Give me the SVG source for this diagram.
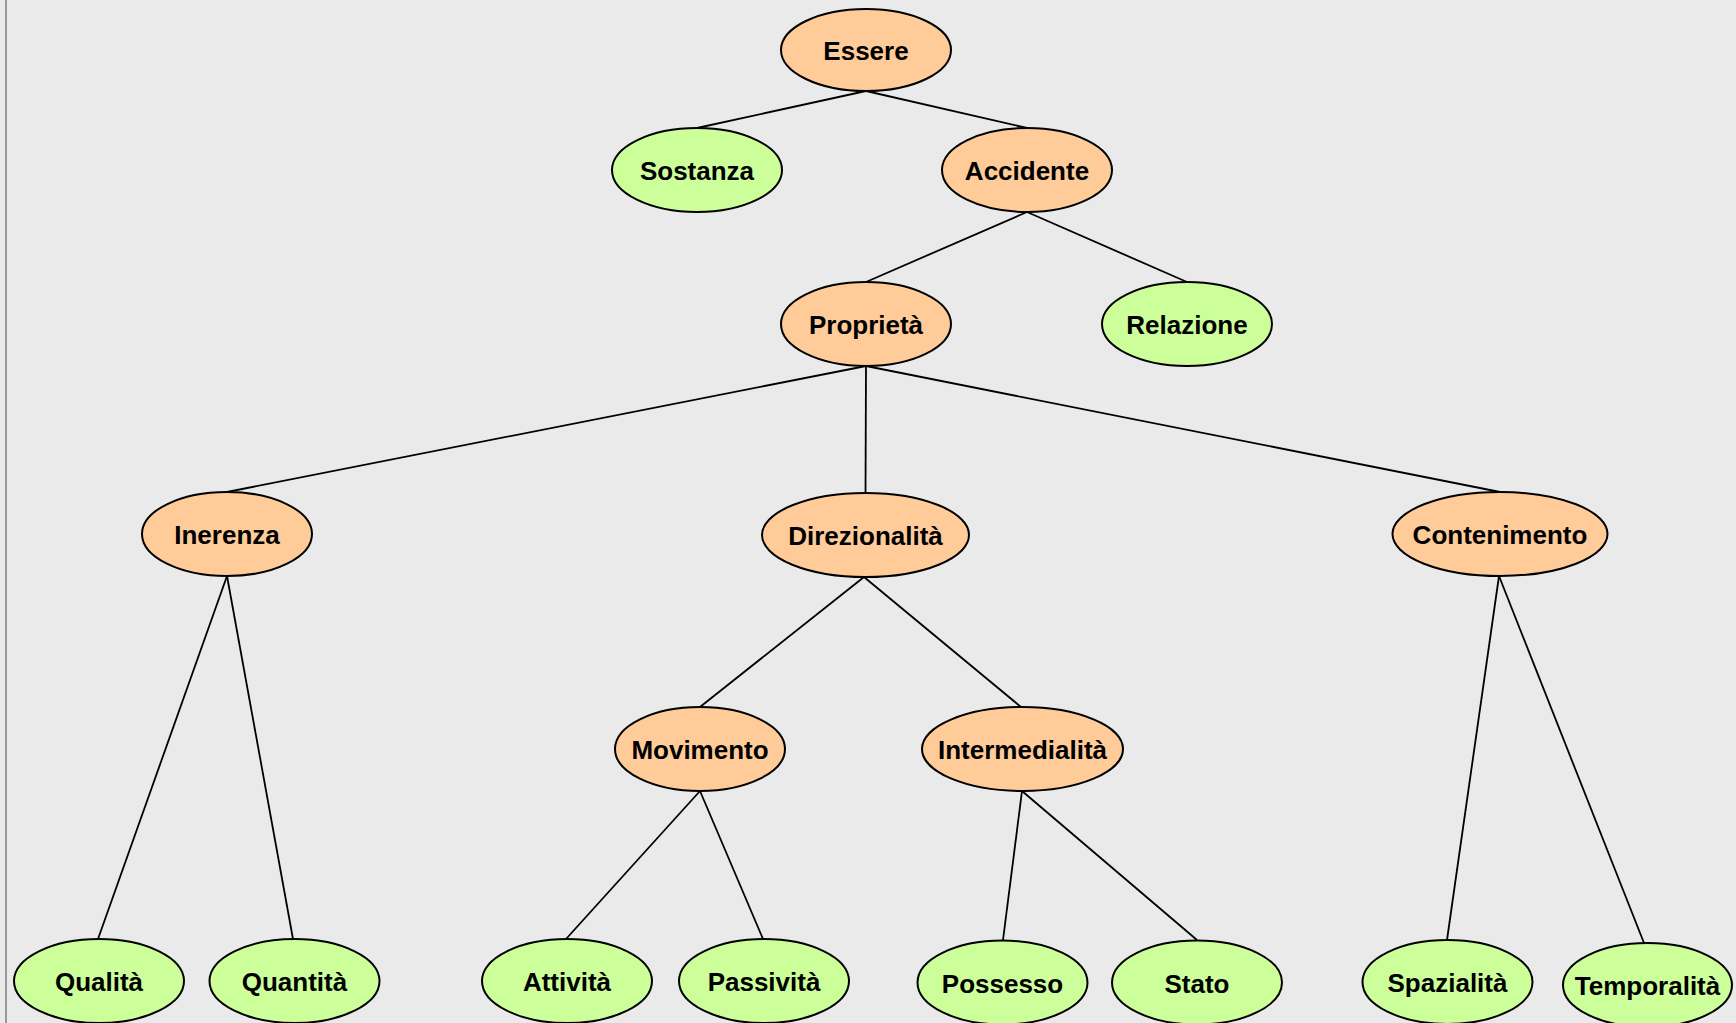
<svg xmlns="http://www.w3.org/2000/svg" width="1736" height="1023" viewBox="0 0 1736 1023">
  <style>
    .bg { fill: #EAEAEA; }
    .frame { stroke: #9A9A9A; stroke-width: 2; }
    .node ellipse { stroke: #000; stroke-width: 2; }
    .inner ellipse { fill: #FFCC99; }
    .leaf ellipse { fill: #CCFF99; }
    .node text { font-family: "Liberation Sans", Arial, sans-serif; font-weight: bold; font-size: 26px; text-anchor: middle; fill: #000; }
    #edges line { stroke: #000; stroke-width: 1.8; }
  </style>
  <rect class="bg" x="0" y="0" width="1736" height="1023"/>
  <line class="frame" x1="6" y1="0" x2="6" y2="1023"/>

  <!-- connectors: parent bottom to child top -->
  <g id="edges">
    <line x1="866" y1="91" x2="697" y2="128"/>
    <line x1="866" y1="91" x2="1027" y2="128"/>
    <line x1="1027" y1="212" x2="866" y2="282"/>
    <line x1="1027" y1="212" x2="1187" y2="282"/>
    <line x1="866" y1="366" x2="227" y2="492"/>
    <line x1="866" y1="366" x2="865.5" y2="493"/>
    <line x1="866" y1="366" x2="1500" y2="492"/>
    <line x1="227" y1="576" x2="98" y2="939"/>
    <line x1="227" y1="576" x2="293" y2="939"/>
    <line x1="864" y1="577" x2="700" y2="707"/>
    <line x1="864" y1="577" x2="1021" y2="707"/>
    <line x1="700" y1="791" x2="566" y2="939"/>
    <line x1="700" y1="791" x2="763" y2="939"/>
    <line x1="1022" y1="791" x2="1003" y2="940"/>
    <line x1="1022" y1="791" x2="1197" y2="940"/>
    <line x1="1499" y1="576" x2="1447" y2="940"/>
    <line x1="1499" y1="576" x2="1644" y2="943"/>
  </g>

  <g id="essere" class="node inner"><ellipse cx="866" cy="50" rx="85" ry="41"/><text x="866" y="60">Essere</text></g>
  <g id="sostanza" class="node leaf"><ellipse cx="697" cy="170" rx="85" ry="42"/><text x="697" y="180">Sostanza</text></g>
  <g id="accidente" class="node inner"><ellipse cx="1027" cy="170" rx="85" ry="42"/><text x="1027" y="180">Accidente</text></g>
  <g id="proprieta" class="node inner"><ellipse cx="866" cy="324" rx="85" ry="42"/><text x="866" y="334">Proprietà</text></g>
  <g id="relazione" class="node leaf"><ellipse cx="1187" cy="324" rx="85" ry="42"/><text x="1187" y="334">Relazione</text></g>
  <g id="inerenza" class="node inner"><ellipse cx="227" cy="534" rx="85" ry="42"/><text x="227" y="544">Inerenza</text></g>
  <g id="direzionalita" class="node inner"><ellipse cx="865.5" cy="535" rx="103.5" ry="42"/><text x="865.5" y="545">Direzionalità</text></g>
  <g id="contenimento" class="node inner"><ellipse cx="1500" cy="534" rx="107.5" ry="42"/><text x="1500" y="544">Contenimento</text></g>
  <g id="movimento" class="node inner"><ellipse cx="700" cy="749" rx="85" ry="42"/><text x="700" y="759">Movimento</text></g>
  <g id="intermedialita" class="node inner"><ellipse cx="1022.5" cy="749" rx="100.5" ry="42"/><text x="1022.5" y="759">Intermedialità</text></g>
  <g id="qualita" class="node leaf"><ellipse cx="99" cy="981" rx="85" ry="42"/><text x="99" y="991">Qualità</text></g>
  <g id="quantita" class="node leaf"><ellipse cx="294.5" cy="981" rx="85" ry="42"/><text x="294.5" y="991">Quantità</text></g>
  <g id="attivita" class="node leaf"><ellipse cx="567" cy="981" rx="85" ry="42"/><text x="567" y="991">Attività</text></g>
  <g id="passivita" class="node leaf"><ellipse cx="764" cy="981" rx="85" ry="42"/><text x="764" y="991">Passività</text></g>
  <g id="possesso" class="node leaf"><ellipse cx="1002.5" cy="982.5" rx="85" ry="42"/><text x="1002.5" y="992.5">Possesso</text></g>
  <g id="stato" class="node leaf"><ellipse cx="1197" cy="982.5" rx="85" ry="42"/><text x="1197" y="992.5">Stato</text></g>
  <g id="spazialita" class="node leaf"><ellipse cx="1447.5" cy="982" rx="85" ry="42"/><text x="1447.5" y="992">Spazialità</text></g>
  <g id="temporalita" class="node leaf"><ellipse cx="1647.5" cy="985" rx="84.5" ry="42"/><text x="1647.5" y="995">Temporalità</text></g>
</svg>
